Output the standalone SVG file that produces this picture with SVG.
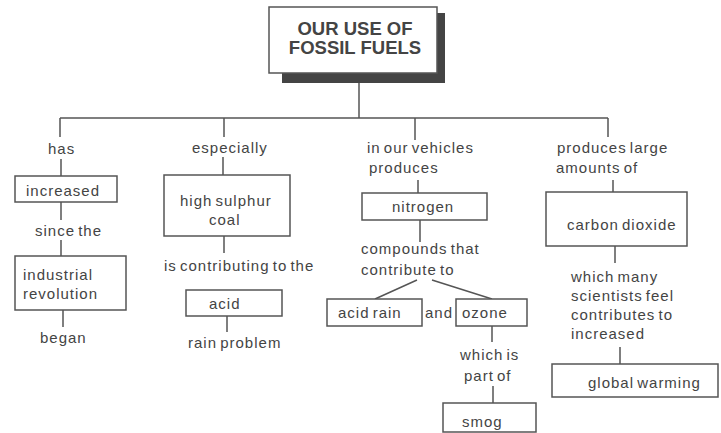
<svg xmlns="http://www.w3.org/2000/svg" width="721" height="433" viewBox="0 0 721 433">
<style>
.box{fill:#fff;stroke:#555;stroke-width:1.5}
.ln{stroke:#555;stroke-width:1.5;fill:none}
.t{font-family:"Liberation Sans",Arial,sans-serif;font-size:15px;fill:#444;letter-spacing:1px;word-spacing:-2px}
.title{font-family:"Liberation Sans",Arial,sans-serif;font-size:18.5px;font-weight:bold;fill:#444;text-anchor:middle}
</style>
<rect width="721" height="433" fill="#fff"/>
<g id="connectors">
<path class="ln" d="M359,83V118M60,118H608M60,118V137M224,118V137M415,118V140M608,118V137"/>
<path class="ln" d="M61,159V176M61,202V220M61,240V256M63,310V327"/>
<path class="ln" d="M223,157V175M224,236V253M227,316V332"/>
<path class="ln" d="M418,180V193M420,220V242M417,280L375,299M432,280L492,299M492,326V342M493,386V403"/>
<path class="ln" d="M613,180V192M615,246V263M620,347V364"/>
</g>
<g id="title">
<rect x="282" y="13" width="163" height="70" fill="#444"/>
<rect class="box" x="269" y="7" width="168" height="66"/>
<text class="title" x="355" y="35">OUR USE OF</text>
<text class="title" x="355" y="54">FOSSIL FUELS</text>
</g>
<g id="has"><text class="t" x="48" y="154">has</text></g>
<g id="increased"><rect class="box" x="15" y="176" width="102" height="26"/><text class="t" x="26" y="196">increased</text></g>
<g id="since-the"><text class="t" x="35" y="236">since the</text></g>
<g id="industrial-revolution"><rect class="box" x="15" y="256" width="111" height="54"/><text class="t" x="23" y="280">industrial</text><text class="t" x="23" y="299">revolution</text></g>
<g id="began"><text class="t" x="40" y="343">began</text></g>
<g id="especially"><text class="t" x="192" y="153">especially</text></g>
<g id="high-sulphur-coal"><rect class="box" x="164" y="175" width="126" height="61"/><text class="t" x="180" y="206">high sulphur</text><text class="t" x="209" y="225">coal</text></g>
<g id="is-contributing"><text class="t" x="164" y="271">is contributing to the</text></g>
<g id="acid"><rect class="box" x="186" y="290" width="96" height="26"/><text class="t" x="209" y="309">acid</text></g>
<g id="rain-problem"><text class="t" x="188" y="348">rain problem</text></g>
<g id="in-our-vehicles"><text class="t" x="367" y="153">in our vehicles</text><text class="t" x="369" y="173">produces</text></g>
<g id="nitrogen"><rect class="box" x="362" y="193" width="125" height="27"/><text class="t" x="392" y="212">nitrogen</text></g>
<g id="compounds"><text class="t" x="361" y="254">compounds that</text><text class="t" x="361" y="275">contribute to</text></g>
<g id="acid-rain"><rect class="box" x="327" y="299" width="95" height="27"/><text class="t" x="338" y="318">acid rain</text></g>
<g id="and"><text class="t" x="425" y="318">and</text></g>
<g id="ozone"><rect class="box" x="456" y="299" width="71" height="27"/><text class="t" x="462" y="318">ozone</text></g>
<g id="which-is"><text class="t" x="460" y="360">which is</text><text class="t" x="464" y="381">part of</text></g>
<g id="smog"><rect class="box" x="443" y="403" width="93" height="29"/><text class="t" x="462" y="427">smog</text></g>
<g id="produces-large"><text class="t" x="557" y="153">produces large</text><text class="t" x="556" y="173">amounts of</text></g>
<g id="carbon-dioxide"><rect class="box" x="546" y="192" width="141" height="54"/><text class="t" x="567" y="230">carbon dioxide</text></g>
<g id="which-many"><text class="t" x="571" y="282">which many</text><text class="t" x="571" y="301">scientists feel</text><text class="t" x="571" y="320">contributes to</text><text class="t" x="571" y="339">increased</text></g>
<g id="global-warming"><rect class="box" x="552" y="364" width="166" height="33"/><text class="t" x="588" y="388">global warming</text></g>
</svg>
